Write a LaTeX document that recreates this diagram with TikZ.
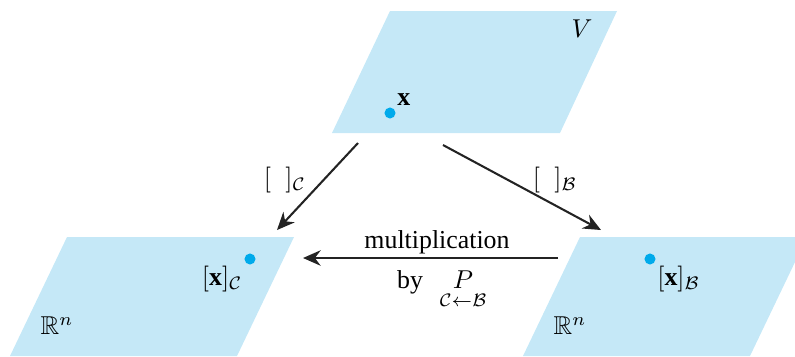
\documentclass[tikz,border=0pt]{standalone}
\usepackage{amsmath,amssymb}
\usepackage{fontspec}
\setmainfont{Liberation Serif}
\usetikzlibrary{arrows.meta}
\definecolor{planeblue}{RGB}{197,232,247}
\definecolor{dotblue}{RGB}{0,170,235}
\definecolor{arrowgray}{RGB}{35,35,35}

\begin{document}
\begin{tikzpicture}[
  x=0.0136cm, y=-0.0136cm,
  >={Stealth[length=2.4mm, width=2.1mm]},
  plane/.style={fill=planeblue},
  pt/.style={circle, fill=dotblue, inner sep=0pt, minimum size=1.5mm},
  map/.style={->, thick, draw=arrowgray}
]
  \clip (0,0) rectangle (795,356);

  % the three spaces
  \fill[plane] (390,11) -- (617,11) -- (560,133) -- (332,133) -- cycle;
  \fill[plane] (67,237) -- (294,237) -- (237,356) -- (10,356) -- cycle;
  \fill[plane] (580,237) -- (807,237) -- (750,356) -- (523,356) -- cycle;

  \node at (582,29) {$V$};
  \node at (57,326) {$\mathbb{R}^n$};
  \node at (570,326) {$\mathbb{R}^n$};

  % the vector and its coordinates
  \node[pt] (xV) at (390,113) {};
  \node[anchor=south west, inner sep=1pt] at (xV.north east) {$\mathbf{x}$};
  \node[pt] (xC) at (250,259) {};
  \node[anchor=north east, inner sep=1pt] at (xC.south west) {$[\mathbf{x}]_{\mathcal{C}}$};
  \node[pt] (xB) at (650,259) {};
  \node[anchor=north west, inner sep=1pt] at (xB.south east) {$[\mathbf{x}]_{\mathcal{B}}$};

  % maps
  \coordinate (fromVC) at (358,143);
  \coordinate (toC) at (277,230);
  \coordinate (fromVB) at (443,145);
  \coordinate (toB) at (601,230);
  \coordinate (fromB) at (558,258);
  \coordinate (toCB) at (303,258);

  \draw[map] (fromVC) -- (toC);
  \draw[map] (fromVB) -- (toB);
  \draw[map] (fromB) -- (toCB);

  \node at (285,180) {$[\;\;]_{\mathcal{C}}$};
  \node at (555,180) {$[\;\;]_{\mathcal{B}}$};
  \node at (437,242) {multiplication};
  \node[anchor=base] (by) at (410,288) {by};
  \node[anchor=base, inner sep=0pt] (P) at (463,288) {$P$};
  \node[anchor=north, inner sep=0pt, yshift=-2pt] (CB) at (P.south) {$\scriptstyle\mathcal{C}\leftarrow\mathcal{B}$};
\end{tikzpicture}
\end{document}
